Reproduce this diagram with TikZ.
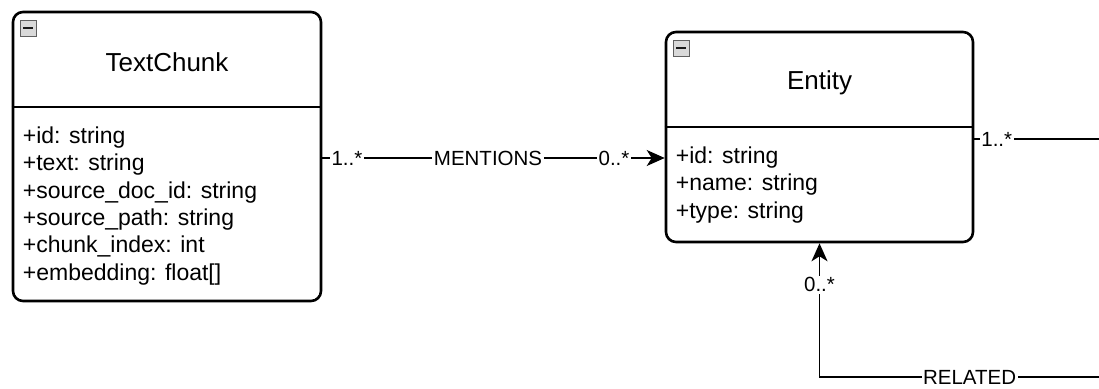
\documentclass[tikz,border=0pt]{standalone}
\usepackage{fontspec}
\setmainfont{Liberation Sans}
\usetikzlibrary{positioning,arrows.meta}
\tikzset{
  classbox/.style={
    draw, rectangle, rounded corners=10pt, line width=2.6pt, inner sep=0pt
  },
  classtitle/.style={
    font=\fontsize{26}{30}\selectfont, inner sep=0pt
  },
  attrs/.style={
    font=\fontsize{23}{27.3}\selectfont, align=left, anchor=north west, inner sep=0pt
  },
  togglebox/.style={
    draw=gray!75!black, fill=gray!30, minimum size=16pt, inner sep=0pt, line width=0.8pt
  },
  assoc/.style={line width=1.6pt},
  multlabel/.style={
    fill=white, font=\fontsize{20.5}{24}\selectfont, inner sep=1.5pt
  }
}

\begin{document}
\begin{tikzpicture}[x=1pt, y=-1pt]
  \useasboundingbox (0,0) rectangle (1099,388);

  % classes
  \node[classbox, minimum width=308pt, minimum height=289pt] (chunk) at (167,156.5) {};
  \node[classbox, minimum width=307pt, minimum height=210pt] (entity) at (819.5,137) {};

  \coordinate (chunkSplit) at ([yshift=-96pt]chunk.north west);
  \coordinate (entitySplit) at ([yshift=-96pt]entity.north west);
  \draw[line width=2.4pt] (chunkSplit) -- (chunkSplit -| chunk.east);
  \draw[line width=2.4pt] (entitySplit) -- (entitySplit -| entity.east);

  \node[togglebox, anchor=north west] (chunkToggle) at ([xshift=8pt,yshift=-9pt]chunk.north west) {};
  \draw[line width=1.5pt, gray!20!black] ([xshift=3.5pt]chunkToggle.west) -- ([xshift=-3.5pt]chunkToggle.east);
  \node[togglebox, anchor=north west] (entityToggle) at ([xshift=8pt,yshift=-9pt]entity.north west) {};
  \draw[line width=1.5pt, gray!20!black] ([xshift=3.5pt]entityToggle.west) -- ([xshift=-3.5pt]entityToggle.east);

  \node[classtitle] (chunkTitle) at ([yshift=-52pt]chunk.north) {TextChunk};
  \node[classtitle] (entityTitle) at ([yshift=-52pt]entity.north) {Entity};

  \node[attrs] (chunkAttrs) at ([xshift=11pt,yshift=-20pt]chunkSplit) {+id: string\\+text: string\\+source\_doc\_id: string\\+source\_path: string\\+chunk\_index: int\\+embedding: float[]};
  \node[attrs] (entityAttrs) at ([xshift=11pt,yshift=-20pt]entitySplit) {+id: string\\+name: string\\+type: string};

  % associations
  \coordinate (mentionsStart) at ([yshift=-1.5pt]chunk.east);
  \coordinate (ownStart) at ([yshift=-2pt]entity.east);
  \coordinate (rightEdge) at (1099,0);
  \coordinate (relatedEnd) at (1099,377);

  \draw[assoc, -{Stealth[length=18pt,width=16pt,inset=5pt]}] (mentionsStart) --
    node[multlabel, pos=0.072] {1..*}
    node[multlabel, pos=0.484] {MENTIONS}
    node[multlabel, pos=0.852] {0..*} (mentionsStart -| entity.west);
  \draw[assoc] (ownStart) -- node[multlabel, pos=0.18] {1..*} (ownStart -| rightEdge);
  \draw[assoc, -{Stealth[length=18pt,width=16pt,inset=5pt]}] (relatedEnd) --
    node[multlabel, pos=0.463] {RELATED} (relatedEnd -| entity.south) --
    node[multlabel, pos=0.69] {0..*} (entity.south);
\end{tikzpicture}
\end{document}
